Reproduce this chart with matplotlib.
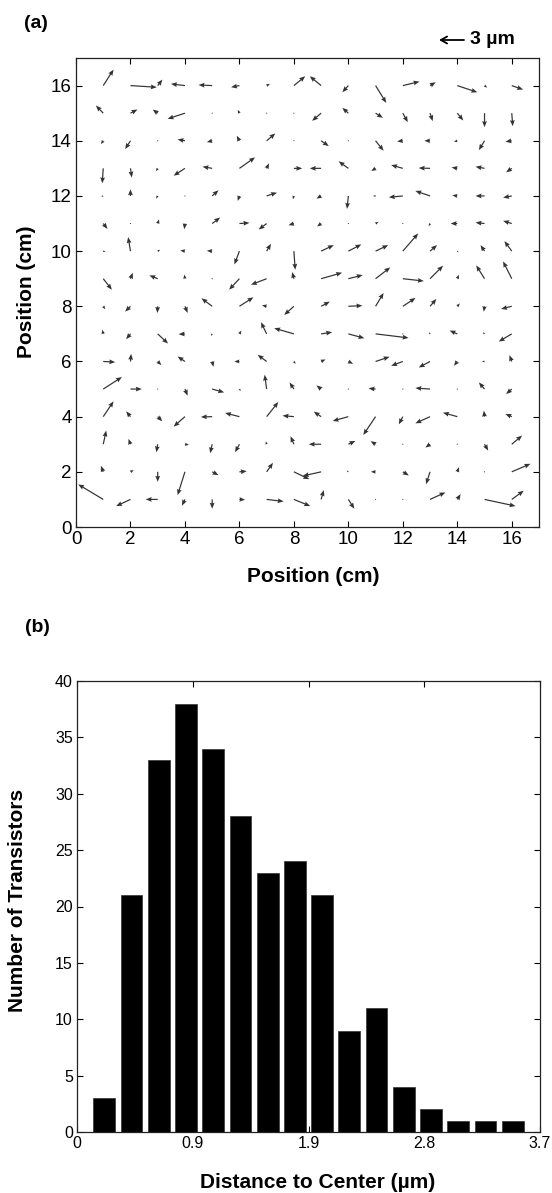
import numpy as np
import matplotlib
matplotlib.use("Agg")
import matplotlib.pyplot as plt

plt.rcParams['font.family'] = ['Liberation Sans', 'DejaVu Sans']

# ---------------- Panel (a): displacement field ----------------
x_pos = list(range(1, 17))          # cm
y_rows = list(range(16, 0, -1))     # rows listed top (16) to bottom (1)

# displacement components in micrometres, one list per row (y = 16 ... 1), columns x = 1 ... 16
u_um = [
    [1.24, 3.16, 0.56, -1.68, -1.64, -1.0, 0.4, 1.36, -1.36, -0.72, 1.28, 2.0, 0.68, 2.4, 0.32, 1.36],
    [-0.88, 0.84, -0.6, -2.08, 0.1, -0.2, 0.1, 0.0, -1.08, -0.72, 0.88, 0.6, 0.32, 0.72, 0.0, 0.12],
    [-0.28, -0.64, 0.1, -0.88, -0.64, -0.32, 1.04, 0.1, 0.92, 0.0, 0.96, -0.68, -0.68, -0.4, -0.68, -0.76],
    [-0.12, 0.16, -0.2, -1.36, -1.16, 1.88, 0.28, 1.0, -1.36, -1.16, -0.52, -1.4, -1.36, -0.68, -1.08, -0.68],
    [-0.24, 0.0, -0.2, 0.0, 0.76, -0.2, 1.24, -0.12, -0.56, -0.16, -0.3, -1.68, -1.76, -0.6, -1.08, -1.04],
    [0.52, 0.0, 0.16, -0.08, 0.96, 1.2, -0.96, -0.64, -0.48, 0.1, 0.36, 0.1, -0.16, -0.8, -1.08, -1.04],
    [0.28, -0.28, 0.3, -0.56, -0.64, -0.6, 0.52, 0.16, 1.52, 1.56, 1.52, 1.84, 0.84, 0.15, -0.48, -0.88],
    [1.04, 0.28, -1.0, -0.08, 0.0, -1.24, -1.88, -0.2, 2.52, 1.72, 1.76, 2.52, 1.56, 0.2, -1.0, -1.04],
    [0.24, -0.64, -0.04, 0.32, -1.28, 1.68, -0.56, -1.16, 1.04, 1.68, 0.96, 1.52, 0.76, 0.3, -0.1, -1.28],
    [-0.12, -0.52, 1.24, -0.76, -0.16, 0.24, -0.68, -2.36, 1.32, 1.92, 3.96, 0.1, -0.15, -0.92, -0.2, -1.56],
    [1.44, 0.08, 0.44, -0.88, 0.16, -0.6, -1.08, 0.2, 0.52, 0.56, 1.68, -1.4, -1.36, -0.4, -0.3, -0.28],
    [2.24, 1.36, 0.1, 0.32, 1.44, 0.15, -0.24, -0.52, -0.56, 0.0, -0.84, 0.05, -1.76, 0.0, -0.68, -0.68],
    [1.24, -0.52, 0.56, -1.36, -1.36, -1.72, 1.4, -1.36, -0.88, -1.88, -1.48, -0.48, -1.76, -1.72, -0.08, -0.76],
    [0.36, -0.24, -0.16, 0.48, -0.24, -0.52, -0.1, -0.4, -1.48, 0.84, -0.6, 0.05, -0.56, 0.0, 0.44, 1.24],
    [-0.28, 0.4, 0.0, -0.88, 0.76, 0.88, 0.76, 1.84, -2.2, -0.2, -0.56, 0.72, -0.48, 0.2, 0.05, 2.24],
    [-3.0, -1.72, -1.44, -0.36, 0.0, 0.68, 2.04, 1.96, 0.32, 0.72, 0.05, 0.05, 1.84, 0.4, 3.72, 1.44],
]
v_um = [
    [1.92, -0.2, 0.72, 0.2, 0.08, -0.2, 0.2, 1.12, 1.12, -0.8, -2.08, 0.48, 0.4, -0.8, -0.24, -0.48],
    [0.92, 0.44, 0.44, -0.68, 0.05, 0.4, 0.0, 0.1, -0.92, 0.64, -0.56, -1.08, -0.96, -0.88, -1.68, -1.56],
    [-0.4, -1.0, 0.0, 0.16, -0.16, 0.6, 0.88, 0.0, -0.64, 0.1, -1.2, -0.08, 0.0, -0.12, -1.12, -0.12],
    [-1.8, -1.1, -0.35, -0.88, 0.2, 1.32, 0.6, 0.0, 0.0, 0.84, -0.32, 0.4, 0.04, 0.12, 0.2, -0.48],
    [-0.08, 0.8, -0.32, 0.1, 0.68, -0.6, 0.4, -0.4, -0.32, -1.56, 0.0, -0.16, 0.6, 0.08, 0.0, -0.2],
    [-0.64, 0.1, 0.5, -0.68, 0.72, 0.08, -0.72, -0.2, -0.36, 0.0, 0.2, 0.0, -0.32, 0.0, 0.12, 0.32],
    [-0.08, 1.68, 0.15, 0.08, 0.04, -1.6, 0.88, -2.24, 0.72, 0.8, 0.72, 2.12, 0.72, -0.15, 0.72, 1.2],
    [-1.32, 0.72, 0.4, 0.5, -0.1, -1.32, -0.72, 0.8, 0.72, 0.44, 1.36, -0.28, 1.56, 0.48, 1.6, 2.08],
    [-0.36, -0.64, -0.8, -0.8, 0.96, 1.08, 0.12, -1.04, 0.56, 0.08, 1.6, 1.0, 0.88, 0.35, -0.65, -0.32],
    [0.5, -0.64, -1.16, -0.04, -0.24, 0.4, 1.4, 0.68, 0.2, -0.52, -0.48, 0.0, 0.2, 0.4, 0.2, -0.92],
    [-0.08, 0.92, -0.44, 0.6, -0.64, 0.0, 0.8, -0.3, 0.24, -0.28, 0.56, -0.52, -0.72, -0.52, 0.0, 0.76],
    [1.44, 0.0, 0.0, -0.8, -0.4, -0.25, 1.72, 0.8, 0.44, 0.05, 0.08, 0.0, 0.12, 0.05, 0.8, -0.6],
    [1.84, 0.64, -0.56, -1.2, -0.04, 0.44, 1.76, 0.12, 0.6, -0.52, -2.2, -0.92, -0.8, 0.48, 0.72, 0.32],
    [1.64, 0.64, -0.96, -0.08, -1.08, -0.96, 0.35, 0.96, 0.0, 0.4, 0.36, 0.0, -0.4, 0.05, -0.76, 1.04],
    [0.72, 0.2, -1.2, -2.8, -0.4, 0.08, 1.08, -0.88, -0.5, 0.15, 0.0, -0.44, -1.48, 0.56, 0.0, 0.96],
    [1.8, -0.8, 0.0, -0.76, -1.12, -0.04, -0.24, -0.8, 1.12, -1.12, 0.0, 0.0, 0.84, 0.64, -0.8, 1.04],
]

quiver_ticks = list(range(0, 17, 2))
scale_ref_um = 3

# ---------------- Panel (b): histogram ----------------
bin_centers = [k * 3.7 / 17 for k in range(1, 17)]
counts = [3, 21, 33, 38, 34, 28, 23, 24, 21, 9, 11, 4, 2, 1, 1, 1]
hist_xticks = [0, 0.925, 1.85, 2.775, 3.7]
hist_xticklabels = ["0", "0.9", "1.9", "2.8", "3.7"]
hist_yticks = list(range(0, 41, 5))

# ---------------- Figure ----------------
W, H = 552, 1193
fig = plt.figure(figsize=(W / 100, H / 100), dpi=100)

def fx(px):
    return px / W

def fy(py):
    return 1 - py / H

spine_col = '#222222'

def style_axes(ax, size):
    for s in ax.spines.values():
        s.set_color(spine_col)
        s.set_linewidth(0.9)
    ax.tick_params(direction='in', top=True, right=True, length=4.5, width=0.8,
                   labelsize=size, colors='black', pad=3)

# Panel (a)
ax_l, ax_r, ax_t, ax_b = 76, 539, 58, 527
ax1 = fig.add_axes([fx(ax_l), fy(ax_b), fx(ax_r) - fx(ax_l), fy(ax_t) - fy(ax_b)])
X, Y = np.meshgrid(x_pos, y_rows)
U = np.array(u_um)
V = np.array(v_um)
px_per_unit = (ax_r - ax_l) / 17.0
ref_len_px = 25.0
ax1.quiver(X, Y, U, V, angles='uv', scale_units='x',
           scale=scale_ref_um / (ref_len_px / px_per_unit),
           width=0.0026, headwidth=4.0, headlength=5.0, headaxislength=4.5,
           color='#333333', pivot='tail')
ax1.set_xlim(0, 17)
ax1.set_ylim(0, 17)
ax1.set_xticks(quiver_ticks)
ax1.set_yticks(quiver_ticks)
style_axes(ax1, 13.5)
ax1.set_xlabel('Position (cm)', fontsize=15, fontweight='bold', va='center')
ax1.set_ylabel('Position (cm)', fontsize=15, fontweight='bold', va='center')
ax1.xaxis.set_label_coords((313 - ax_l) / (ax_r - ax_l), (ax_b - 577) / (ax_b - ax_t))
ax1.yaxis.set_label_coords((27 - ax_l) / (ax_r - ax_l), (ax_b - 292) / (ax_b - ax_t))

# scale reference arrow (3 µm), pointing left
ax1.annotate('', xy=(439, H - 40), xytext=(439 + ref_len_px, H - 40),
             xycoords='figure pixels', textcoords='figure pixels',
             arrowprops=dict(arrowstyle='->,head_length=0.45,head_width=0.25',
                             lw=1.3, color='black', shrinkA=0, shrinkB=0),
             annotation_clip=False)
fig.text(fx(470), fy(40), '3 µm', fontsize=14, fontweight='bold', ha='left', va='center')

fig.text(fx(36), fy(24), '(a)', fontsize=14, fontweight='bold', ha='center', va='center')

# Panel (b)
bx_l, bx_r, bx_t, bx_b = 77, 540, 681, 1132
ax2 = fig.add_axes([fx(bx_l), fy(bx_b), fx(bx_r) - fx(bx_l), fy(bx_t) - fy(bx_b)])
ax2.bar(bin_centers, counts, width=0.8 * 3.7 / 17, color='black', edgecolor='#333333', linewidth=0.5)
ax2.set_xlim(0, 3.7)
ax2.set_ylim(0, 40)
ax2.set_xticks(hist_xticks)
ax2.set_xticklabels(hist_xticklabels)
ax2.set_yticks(hist_yticks)
style_axes(ax2, 11.5)
ax2.set_xlabel('Distance to Center (µm)', fontsize=15, fontweight='bold', va='center')
ax2.set_ylabel('Number of Transistors', fontsize=15, fontweight='bold', va='center')
ax2.xaxis.set_label_coords((318 - bx_l) / (bx_r - bx_l), (bx_b - 1182) / (bx_b - bx_t))
ax2.yaxis.set_label_coords((18 - bx_l) / (bx_r - bx_l), (bx_b - 900) / (bx_b - bx_t))

fig.text(fx(37), fy(628), '(b)', fontsize=14, fontweight='bold', ha='center', va='center')

fig.savefig('out.png', dpi=100)
